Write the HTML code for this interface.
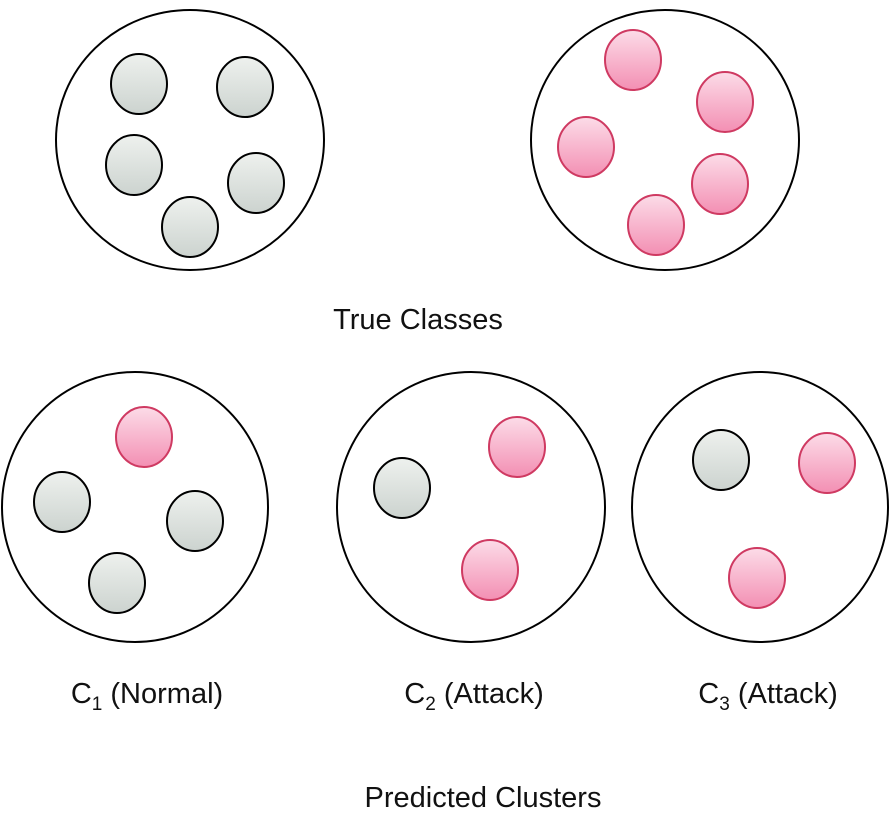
<!DOCTYPE html>
<html><head><meta charset="utf-8"><style>
body{margin:0;background:#fff}
svg text{font-family:"Liberation Sans",sans-serif;font-size:29px;fill:#111}
</style></head><body>
<svg width="892" height="817" viewBox="0 0 892 817">
<defs>
<linearGradient id="gp" x1="0" y1="0" x2="0" y2="1"><stop offset="0" stop-color="#fcdce8"/><stop offset="1" stop-color="#f38fb3"/></linearGradient>
<linearGradient id="gg" x1="0" y1="0" x2="0" y2="1"><stop offset="0" stop-color="#eef1ee"/><stop offset="1" stop-color="#ccd3cf"/></linearGradient>
</defs>
<g id="big"></g>
<g id="small"></g>
<text x="418" y="329" text-anchor="middle">True Classes</text>
<text x="147" y="703" text-anchor="middle">C<tspan font-size="19" dy="7">1</tspan><tspan dy="-7"> (Normal)</tspan></text>
<text x="474" y="703" text-anchor="middle">C<tspan font-size="19" dy="7">2</tspan><tspan dy="-7"> (Attack)</tspan></text>
<text x="768" y="703" text-anchor="middle">C<tspan font-size="19" dy="7">3</tspan><tspan dy="-7"> (Attack)</tspan></text>
<text x="483" y="807" text-anchor="middle">Predicted Clusters</text>
</svg>
<script>
const bigNames=['normal-class','attack-class','cluster-c1','cluster-c2','cluster-c3'];
const bigX=[190,665,135,471,760];
const bigY=[140,140,507,507,507];
const bigRx=[134,134,133,134,128];
const bigRy=[130,130,135,135,135];
const ptX=[139,245,134,256,190, 633,725,586,720,656, 144,62,195,117, 402,517,490, 721,827,757];
const ptY=[84,87,165,183,227, 60,102,147,184,225, 437,502,521,583, 488,447,570, 460,463,578];
const ptType=['n','n','n','n','n','a','a','a','a','a','a','n','n','n','n','a','a','n','a','a'];
const NS='http://www.w3.org/2000/svg';
const gb=document.getElementById('big'),gs=document.getElementById('small');
bigX.forEach((x,i)=>{const e=document.createElementNS(NS,'ellipse');
e.setAttribute('cx',x);e.setAttribute('cy',bigY[i]);e.setAttribute('rx',bigRx[i]);e.setAttribute('ry',bigRy[i]);
e.setAttribute('fill','none');e.setAttribute('stroke','#000');e.setAttribute('stroke-width','2');


gb.appendChild(e);});
ptX.forEach((x,i)=>{const e=document.createElementNS(NS,'ellipse');const a=ptType[i]==='a';
e.setAttribute('cx',x);e.setAttribute('cy',ptY[i]);e.setAttribute('rx',28);e.setAttribute('ry',30);
e.setAttribute('fill',a?'url(#gp)':'url(#gg)');e.setAttribute('stroke',a?'#cf3a62':'#000');e.setAttribute('stroke-width','2');


gs.appendChild(e);});
</script>
</body></html>
